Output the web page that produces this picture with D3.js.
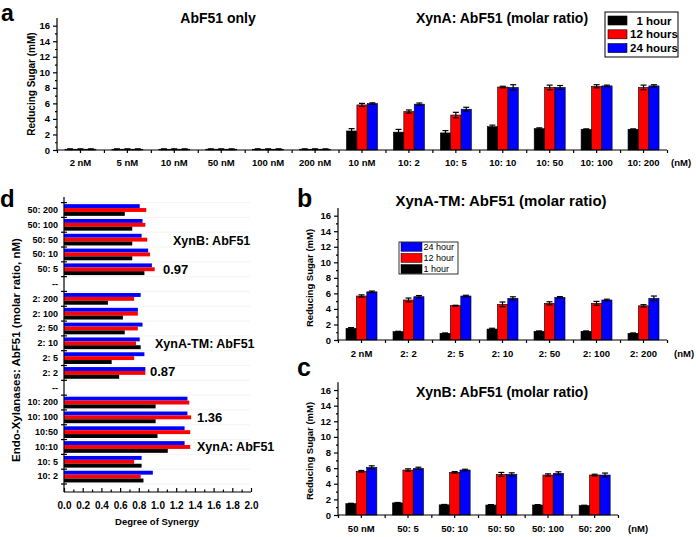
<!DOCTYPE html>
<html><head><meta charset="utf-8">
<script src="https://cdn.jsdelivr.net/npm/d3@7"></script>
<style>body{margin:0;background:#fff}svg{display:block}</style>
</head><body><svg id="c" width="696" height="537"></svg>
<script>
// ---------- data ----------
const catA = ["2 nM","5 nM","10 nM","50 nM","100 nM","200 nM","10 nM","10: 2","10: 5","10: 10","10: 50","10: 100","10: 200"];
const a1h  = [0.1,0.1,0.1,0.1,0.1,0.1,2.45,2.3,2.2,3.0,2.75,2.67,2.67];
const a12h = [0.1,0.1,0.1,0.1,0.1,0.1,5.8,4.95,4.5,8.1,8.05,8.2,8.05];
const a24h = [0.1,0.1,0.1,0.1,0.1,0.1,5.97,5.9,5.25,8.05,8.05,8.25,8.25];
const a1hErr  = [0.05,0.05,0.05,0.05,0.05,0.05,0.3,0.35,0.3,0.2,0.1,0.05,0.05];
const a12hErr = [0.05,0.05,0.05,0.05,0.05,0.05,0.2,0.2,0.35,0.1,0.3,0.2,0.3];
const a24hErr = [0.05,0.05,0.05,0.05,0.05,0.05,0.1,0.15,0.25,0.35,0.25,0.1,0.15];

const catB = ["2 nM","2: 2","2: 5","2: 10","2: 50","2: 100","2: 200"];
const b1h  = [1.5,1.07,0.86,1.41,1.12,1.12,0.86];
const b12h = [5.66,5.15,4.42,4.59,4.72,4.72,4.4];
const b24h = [6.2,5.57,5.66,5.36,5.49,5.15,5.36];
const b1hErr  = [0.1,0.05,0.05,0.1,0.05,0.05,0.05];
const b12hErr = [0.15,0.25,0.05,0.3,0.2,0.25,0.15];
const b24hErr = [0.1,0.15,0.1,0.2,0.1,0.1,0.3];

const catC = ["50 nM","50: 5","50: 10","50: 50","50: 100","50: 200"];
const c1h  = [1.45,1.55,1.3,1.28,1.28,1.2];
const c12h = [5.6,5.76,5.46,5.2,5.12,5.12];
const c24h = [6.1,5.97,5.76,5.2,5.33,5.12];
const c1hErr  = [0.05,0.05,0.05,0.05,0.05,0.05];
const c12hErr = [0.1,0.15,0.1,0.25,0.15,0.1];
const c24hErr = [0.2,0.15,0.1,0.2,0.2,0.25];

const catD = ["50: 200","50: 100","50: 50","50: 10","50: 5","--","2: 200","2: 100","2: 50","2: 10","2: 5","2: 2","--","10: 200","10: 100","10:50","10:10","10: 5","10: 2"];
const d24h = [0.81,0.84,0.83,0.90,0.94,null,0.82,0.79,0.84,0.81,0.86,0.87,null,1.32,1.32,1.29,1.29,0.83,0.95];
const d12h = [0.88,0.87,0.89,0.92,0.97,null,0.75,0.79,0.79,0.77,0.75,0.87,null,1.34,1.36,1.35,1.35,0.75,0.82];
const d1h  = [0.65,0.73,0.73,0.73,0.86,null,0.47,0.63,0.65,0.82,0.51,0.59,null,0.98,0.98,1.00,1.11,0.83,0.85];
const dTicks = [0,0.2,0.4,0.6,0.8,1.0,1.2,1.4,1.6,1.8,2.0];
const yTicks = [0,2,4,6,8,10,12,14,16];

const COLORS = {k:"#000000", r:"#ff0000", b:"#0000ff"};
const FONT = "'Liberation Sans', Arial, sans-serif";

const svg = d3.select("#c").attr("font-family", FONT);
svg.append("rect").attr("width",696).attr("height",537).attr("fill","#fff");

function vertPanel(o){
  const g = svg.append("g");
  const n = o.cats.length;
  const x = d3.scaleBand().domain(d3.range(n)).range([o.x0,o.x1]).paddingInner(0).paddingOuter(0);
  const y = d3.scaleLinear().domain([0,17]).range([o.y0, o.y0 - 17*o.ppu]);
  const sub = d3.scaleBand().domain(["k","r","b"]).range([0,31]).paddingInner(0.02);
  const series = [["k",o.k,o.ke],["r",o.r,o.re],["b",o.b,o.be]];
  series.forEach(([c,vals,errs])=>{
    g.append("g").selectAll("rect").data(vals).join("rect")
      .attr("x",(d,i)=>x(i)+x.bandwidth()/2-15.5+sub(c))
      .attr("width",sub.bandwidth())
      .attr("y",d=>y(d)).attr("height",d=>y(0)-y(d))
      .attr("fill",COLORS[c]).attr("stroke","#000").attr("stroke-width",0.6);
    const eg = g.append("g").attr("stroke","#000").attr("stroke-width",1.2);
    vals.forEach((v,i)=>{
      const cx = x(i)+x.bandwidth()/2-15.5+sub(c)+sub.bandwidth()/2;
      const e = errs[i];
      eg.append("line").attr("x1",cx).attr("x2",cx).attr("y1",y(v-e)).attr("y2",y(v+e));
      eg.append("line").attr("x1",cx-3).attr("x2",cx+3).attr("y1",y(v+e)).attr("y2",y(v+e));
      eg.append("line").attr("x1",cx-3).attr("x2",cx+3).attr("y1",y(v-e)).attr("y2",y(v-e));
    });
  });
  // y axis
  const ya = g.append("g").attr("transform",`translate(${o.x0},0)`)
    .call(d3.axisLeft(y).tickValues(yTicks).tickSize(4).tickPadding(3));
  ya.select(".domain").attr("d",`M0,${y(0)}V${y(17)}`);
  g.append("g").attr("transform",`translate(${o.x0},0)`)
    .call(d3.axisLeft(y).tickValues(d3.range(1,17,2)).tickSize(2).tickFormat(""))
    .select(".domain").remove();
  // x axis
  const xa = g.append("g").attr("transform",`translate(0,${o.y0})`)
    .call(d3.axisBottom(x).tickFormat(i=>o.cats[i]).tickSize(3).tickPadding(o.xpad));
  xa.select(".domain").attr("d",`M${o.x0},0H${o.x1}`);
  g.append("g").attr("transform",`translate(0,${o.y0})`)
    .call(d3.axisBottom(d3.scaleLinear().domain([0,n]).range([o.x0,o.x1])).tickValues(d3.range(0,n+1)).tickSize(3).tickFormat(""))
    .select(".domain").remove();
  g.selectAll(".domain, .tick line").attr("stroke","#000").attr("stroke-width",1.2);
  g.selectAll(".tick text").attr("fill","#000").attr("font-family",FONT).attr("font-weight","bold").attr("font-size",o.fs);
  // nM
  g.append("text").attr("x",o.nmX).attr("y",o.y0+o.xpad+3+o.fs*0.72+0.5).attr("font-size",o.fs).attr("font-weight","bold").text("(nM)");
  // y label
  g.append("text").attr("transform",`translate(${o.ylX},${o.ylY}) rotate(-90)`).attr("text-anchor","middle")
    .attr("font-size",o.ylFs).attr("font-weight","bold").text("Reducing Sugar (mM)");
  return {x,y};
}

// Panel a
vertPanel({cats:catA,k:a1h,r:a12h,b:a24h,ke:a1hErr,re:a12hErr,be:a24hErr,
  x0:57,x1:667,y0:150,ppu:7.77,fs:9.5,xpad:6,nmX:671,ylX:35,ylY:84,ylFs:10});
// Panel b
vertPanel({cats:catB,k:b1h,r:b12h,b:b24h,ke:b1hErr,re:b12hErr,be:b24hErr,
  x0:338,x1:667,y0:340,ppu:7.77,fs:9.5,xpad:7,nmX:674,ylX:313,ylY:278,ylFs:9.5});
// Panel c
vertPanel({cats:catC,k:c1h,r:c12h,b:c24h,ke:c1hErr,re:c12hErr,be:c24hErr,
  x0:338,x1:618,y0:515,ppu:7.81,fs:9.5,xpad:7,nmX:628,ylX:313,ylY:451,ylFs:9.5});

// titles
function txt(x,y,s,fs,anchor,weight){
  return svg.append("text").attr("x",x).attr("y",y).attr("font-size",fs)
    .attr("text-anchor",anchor||"start").attr("font-weight",weight||"bold").attr("fill","#000").text(s);
}
txt(218,23,"AbF51 only",14,"middle");
txt(502,23,"XynA: AbF51 (molar ratio)",14,"middle");
txt(501,206,"XynA-TM: AbF51 (molar ratio)",15,"middle");
txt(502,397,"XynB: AbF51 (molar ratio)",14,"middle");
txt(1,21,"a",23);
txt(297,207,"b",25);
txt(297,376,"c",25);
txt(0,207,"d",24);

// legend a
const lgA = svg.append("g");
lgA.append("rect").attr("x",605).attr("y",12).attr("width",73).attr("height",45).attr("fill","#fff").attr("stroke","#000").attr("stroke-width",1);
[["k","1 hour"],["r","12 hours"],["b","24 hours"]].forEach(([c,s],i)=>{
  const cy = 20.5+i*13.8;
  lgA.append("rect").attr("x",608).attr("y",cy-4.5).attr("width",19).attr("height",9).attr("fill",COLORS[c]).attr("stroke","#000").attr("stroke-width",0.6);
  lgA.append("text").attr("x",654).attr("y",cy+4).attr("text-anchor","middle").attr("font-size",11.5).attr("font-weight","bold").text(s);
});
// legend b
const lgB = svg.append("g");
lgB.append("rect").attr("x",399).attr("y",242).attr("width",59).attr("height",32).attr("fill","#fff").attr("stroke","#000").attr("stroke-width",0.8);
[["b","24 hour"],["r","12 hour"],["k","1 hour"]].forEach(([c,s],i)=>{
  const cy = 246.8+i*11.1;
  lgB.append("rect").attr("x",401).attr("y",cy-4.5).attr("width",21).attr("height",9).attr("fill",COLORS[c]).attr("stroke","#000").attr("stroke-width",0.5);
  lgB.append("text").attr("x",423.5).attr("y",cy+3.3).attr("font-size",9).text(s);
});

// Panel d
(function(){
  const g = svg.append("g");
  const x = d3.scaleLinear().domain([0,2]).range([64,251]);
  const y = d3.scaleBand().domain(d3.range(catD.length)).range([202.6,484]);
  const bh = 3.9;
  // faint grid lines at boundaries
  g.append("g").selectAll("line").data(d3.range(catD.length+1)).join("line")
    .attr("x1",64).attr("x2",250)
    .attr("y1",i=>202.6+i*y.step()).attr("y2",i=>202.6+i*y.step())
    .attr("stroke","#f0f0f0").attr("stroke-width",0.8);
  [["b",d24h,-1],["r",d12h,0],["k",d1h,1]].forEach(([c,vals,off])=>{
    g.append("g").selectAll("rect").data(vals.map((v,i)=>({v,i})).filter(d=>d.v!==null)).join("rect")
      .attr("x",x(0)).attr("width",d=>x(d.v)-x(0))
      .attr("y",d=>y(d.i)+y.bandwidth()/2+off*bh-bh/2).attr("height",bh)
      .attr("fill",COLORS[c]);
  });
  // y axis
  const ya = g.append("g").attr("transform","translate(64,0)")
    .call(d3.axisLeft(y).tickFormat(i=>catD[i]).tickSize(0).tickPadding(6));
  ya.select(".domain").attr("d","M0,197V492");
  g.append("g").selectAll("line").data(d3.range(catD.length+1)).join("line")
    .attr("x1",61).attr("x2",67)
    .attr("y1",i=>202.6+i*y.step()).attr("y2",i=>202.6+i*y.step())
    .attr("stroke","#000").attr("stroke-width",1.2);
  // x axis
  const xa = g.append("g").attr("transform","translate(0,492)")
    .call(d3.axisBottom(x).tickValues(dTicks).tickFormat(d3.format(".1f")).tickSize(-4).tickPadding(10));
  xa.select(".domain").attr("d","M64,0H251");
  g.append("g").attr("transform","translate(0,492)")
    .call(d3.axisBottom(x).tickValues(d3.range(0.1,2,0.2)).tickSize(-2.5).tickFormat(""))
    .select(".domain").remove();
  g.selectAll(".domain, .tick line").attr("stroke","#000").attr("stroke-width",1.2);
  ya.selectAll(".tick text").attr("font-size",9);
  xa.selectAll(".tick text").attr("font-size",10);
  g.selectAll(".tick text").attr("fill","#000").attr("font-family",FONT).attr("font-weight","bold");
  txt(157,525,"Degree of Synergy",9.5,"middle");
  svg.append("text").attr("transform","translate(20,350) rotate(-90)").attr("text-anchor","middle")
    .attr("font-size",11.5).attr("font-weight","bold").text("Endo-Xylanases: AbF51 (molar ratio, nM)");
  txt(173,245,"XynB: AbF51",12.5);
  txt(163,274,"0.97",13);
  txt(155,348,"XynA-TM: AbF51",12.5);
  txt(150,376,"0.87",13);
  txt(197,422,"1.36",13);
  txt(197,451,"XynA: AbF51",12.5);
})();
</script></body></html>
